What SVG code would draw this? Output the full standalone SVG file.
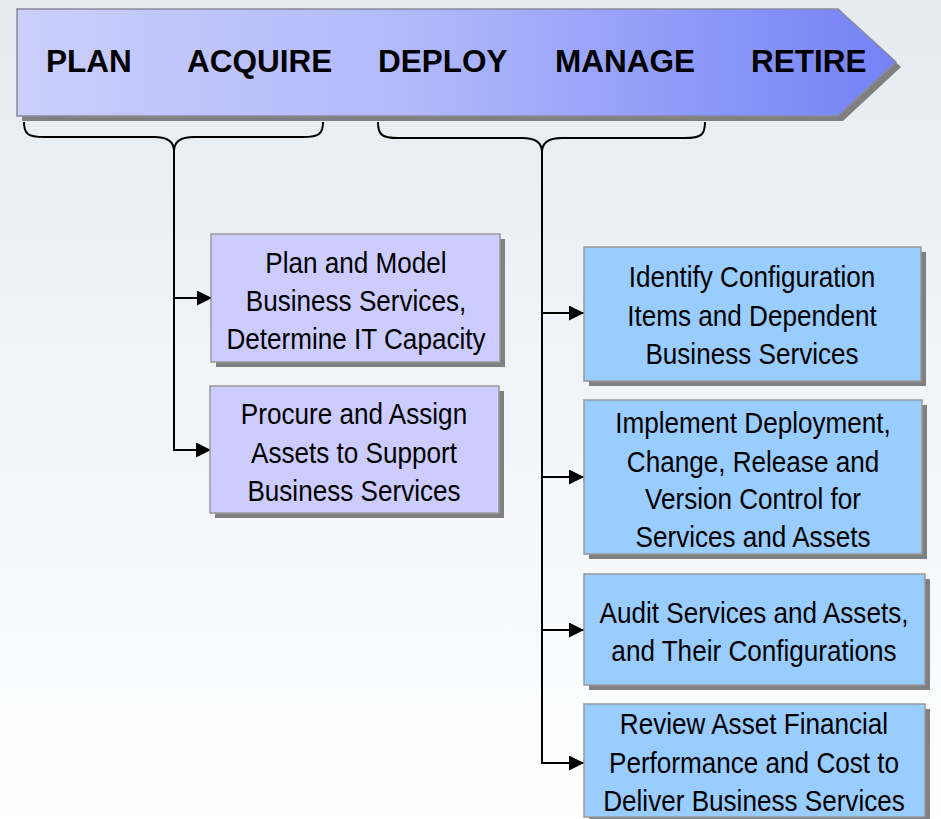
<svg xmlns="http://www.w3.org/2000/svg" width="941" height="819" viewBox="0 0 941 819">
<defs>
<linearGradient id="bg" x1="0" y1="0" x2="0" y2="1">
<stop offset="0" stop-color="#e5ebf1"/>
<stop offset="1" stop-color="#ffffff"/>
</linearGradient>
<linearGradient id="arr" x1="0" y1="0" x2="1" y2="0">
<stop offset="0" stop-color="#cbcffb"/>
<stop offset="0.45" stop-color="#b1b9fb"/>
<stop offset="1" stop-color="#7482f6"/>
</linearGradient>
<marker id="ah" viewBox="0 0 15 15" refX="15" refY="7.5" markerWidth="15" markerHeight="15" markerUnits="userSpaceOnUse" orient="auto">
<path d="M0,0 L15,7.5 L0,15 Z" fill="#000"/>
</marker>
<style>
.sh{fill:#808080}
.lb{fill:#ccccff;stroke:#999999;stroke-width:1.5}
.rb{fill:#99ccff;stroke:#999999;stroke-width:1.5}
.t{font-family:"Liberation Sans",Arial,sans-serif;font-size:30px;fill:#000;text-anchor:middle}
.h{font-family:"Liberation Sans",Arial,sans-serif;font-size:31.5px;font-weight:bold;fill:#000}
.c{fill:none;stroke:#000;stroke-width:2}
</style>
</defs>
<rect x="0" y="0" width="941" height="819" fill="url(#bg)"/>

<g id="phases">
<path d="M22,14 L843,14 L901,67 L843,121 L22,121 Z" class="sh"/>
<path d="M17,9 L838,9 L896,62 L838,116 L17,116 Z" fill="url(#arr)" stroke="#8a8a9a" stroke-width="1.5"/>
<text class="h" x="46" y="72">PLAN</text>
<text class="h" x="187" y="72">ACQUIRE</text>
<text class="h" x="378" y="72">DEPLOY</text>
<text class="h" x="555" y="72">MANAGE</text>
<text class="h" x="751" y="72">RETIRE</text>
</g>

<g id="connectors">
<path class="c" stroke-width="1.5" d="M24,122 C24,134 28,137 44,137 L154,137 C168,137 174,142 174,151 C174,142 180,137 194,137 L303,137 C319,137 323,134 323,122"/>
<path class="c" stroke-width="1.5" d="M378,122 C378,135 382,138 398,138 L522,138 C536,138 542,143 542,152 C542,143 548,138 562,138 L685,138 C701,138 705,135 705,122"/>
<path class="c" d="M174,150 L174,450 L211,450" marker-end="url(#ah)"/>
<path class="c" d="M174,298 L212,298" marker-end="url(#ah)"/>
<path class="c" d="M542,151 L542,763 L584,763" marker-end="url(#ah)"/>
<path class="c" d="M542,313 L584,313" marker-end="url(#ah)"/>
<path class="c" d="M542,477 L584,477" marker-end="url(#ah)"/>
<path class="c" d="M542,630 L584,630" marker-end="url(#ah)"/>
</g>

<g id="n1">
<rect class="sh" x="216" y="239" width="289" height="128"/>
<rect class="lb" x="211" y="234" width="289" height="128"/>
<g transform="translate(356,0) scale(0.87,1)">
<text class="t" x="0" y="273">Plan and Model</text>
<text class="t" x="0" y="311">Business Services,</text>
<text class="t" x="0" y="349">Determine IT Capacity</text>
</g>
</g>

<g id="n2">
<rect class="sh" x="215" y="391" width="289" height="127"/>
<rect class="lb" x="210" y="386" width="289" height="127"/>
<g transform="translate(354,0) scale(0.87,1)">
<text class="t" x="0" y="424">Procure and Assign</text>
<text class="t" x="0" y="463">Assets to Support</text>
<text class="t" x="0" y="501">Business Services</text>
</g>
</g>

<g id="n3">
<rect class="sh" x="589" y="252" width="337" height="134"/>
<rect class="rb" x="584" y="247" width="337" height="134"/>
<g transform="translate(752,0) scale(0.87,1)">
<text class="t" x="0" y="287">Identify Configuration</text>
<text class="t" x="0" y="326">Items and Dependent</text>
<text class="t" x="0" y="364">Business Services</text>
</g>
</g>

<g id="n4">
<rect class="sh" x="589" y="405" width="338" height="154"/>
<rect class="rb" x="584" y="400" width="338" height="154"/>
<g transform="translate(753,0) scale(0.87,1)">
<text class="t" x="0" y="433">Implement Deployment,</text>
<text class="t" x="0" y="472">Change, Release and</text>
<text class="t" x="0" y="509">Version Control for</text>
<text class="t" x="0" y="547">Services and Assets</text>
</g>
</g>

<g id="n5">
<rect class="sh" x="589" y="579" width="341" height="111"/>
<rect class="rb" x="584" y="574" width="341" height="111"/>
<g transform="translate(754,0) scale(0.87,1)">
<text class="t" x="0" y="623">Audit Services and Assets,</text>
<text class="t" x="0" y="661">and Their Configurations</text>
</g>
</g>

<g id="n6">
<rect class="sh" x="589" y="709" width="341" height="113"/>
<rect class="rb" x="584" y="704" width="341" height="113"/>
<g transform="translate(754,0) scale(0.87,1)">
<text class="t" x="0" y="734">Review Asset Financial</text>
<text class="t" x="0" y="773">Performance and Cost to</text>
<text class="t" x="0" y="811">Deliver Business Services</text>
</g>
</g>
</svg>
